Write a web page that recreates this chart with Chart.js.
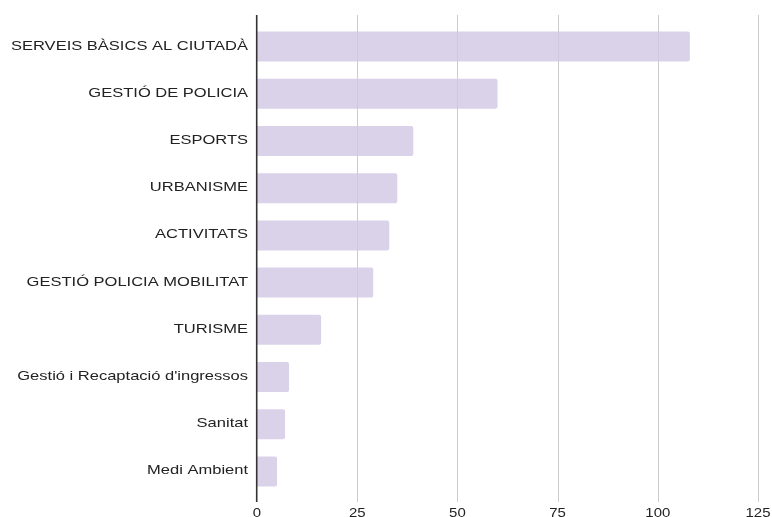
<!DOCTYPE html>
<html>
<head>
<meta charset="utf-8">
<script src="https://cdn.jsdelivr.net/npm/chart.js@4/dist/chart.umd.min.js"></script>
<style>
  html, body { margin: 0; padding: 0; background: #fff; }
  #wrap { width: 772px; height: 517px; }
</style>
</head>
<body>
<div id="wrap"><canvas id="chart"></canvas></div>
<script>
// Àrees municipals i nombre d'expedients
const categories = [
  'SERVEIS BÀSICS AL CIUTADÀ',
  'GESTIÓ DE POLICIA',
  'ESPORTS',
  'URBANISME',
  'ACTIVITATS',
  'GESTIÓ POLICIA MOBILITAT',
  'TURISME',
  "Gestió i Recaptació d'ingressos",
  'Sanitat',
  'Medi Ambient'
];
const values = [108, 60, 39, 35, 33, 29, 16, 8, 7, 5];
const xTicks = [0, 25, 50, 75, 100, 125];

const FONT = '"Liberation Sans", Arial, sans-serif';
const TEXT_COLOR = '#222222';

// Vertical gridlines, the zero baseline and wide-set axis labels
const axisPlugin = {
  id: 'axisDecor',
  beforeDatasetsDraw(chart) {
    const { ctx, scales: { x } } = chart;
    ctx.save();
    ctx.strokeStyle = '#cccccc';
    ctx.lineWidth = 1;
    xTicks.slice(1).forEach(v => {
      const px = Math.round(x.getPixelForValue(v)) + 0.5;
      ctx.beginPath();
      ctx.moveTo(px, 15);
      ctx.lineTo(px, 502);
      ctx.stroke();
    });
    ctx.restore();
  },
  afterDatasetsDraw(chart) {
    const { ctx, scales: { x, y } } = chart;
    const zero = x.getPixelForValue(0);
    ctx.save();
    ctx.strokeStyle = '#333333';
    ctx.lineWidth = 1.6;
    ctx.beginPath();
    ctx.moveTo(zero - 0.3, 15);
    ctx.lineTo(zero - 0.3, 502);
    ctx.stroke();

    ctx.fillStyle = TEXT_COLOR;
    ctx.font = '13px ' + FONT;
    ctx.textBaseline = 'middle';

    // category labels, right-aligned against the baseline
    ctx.textAlign = 'right';
    categories.forEach((label, i) => {
      ctx.save();
      ctx.translate(zero - 9, y.getPixelForTick(i) - 0.5);
      ctx.scale(1.27, 1);
      ctx.fillText(label, 0, 0);
      ctx.restore();
    });

    // value axis labels
    ctx.textAlign = 'center';
    xTicks.forEach(v => {
      ctx.save();
      ctx.translate(x.getPixelForValue(v), 513);
      ctx.scale(1.15, 1);
      ctx.fillText(String(v), 0, 0);
      ctx.restore();
    });
    ctx.restore();
  }
};

new Chart(document.getElementById('chart'), {
  type: 'bar',
  data: {
    labels: categories,
    datasets: [{
      data: values,
      backgroundColor: 'rgba(207, 199, 228, 0.8)',
      borderWidth: 0,
      borderRadius: 2,
      borderSkipped: 'start',
      categoryPercentage: 1,
      barPercentage: 0.635
    }]
  },
  options: {
    indexAxis: 'y',
    responsive: true,
    maintainAspectRatio: false,
    animation: false,
    layout: { padding: { top: 23, right: 14, left: 0, bottom: 0 } },
    plugins: { legend: { display: false }, tooltip: { enabled: false } },
    scales: {
      x: {
        min: 0,
        max: 125,
        afterBuildTicks(scale) { scale.ticks = xTicks.map(v => ({ value: v })); },
        afterFit(scale) {
          scale.height = 22;
          scale.paddingLeft = 0;
          scale.paddingRight = 0;
        },
        grid: { display: false, drawTicks: false },
        border: { display: false },
        ticks: { display: false }
      },
      y: {
        afterFit(scale) {
          scale.width = 257;
          scale.paddingTop = 0;
          scale.paddingBottom = 0;
        },
        grid: { display: false, drawTicks: false },
        border: { display: false },
        ticks: { display: false }
      }
    }
  },
  plugins: [axisPlugin]
});
</script>
</body>
</html>
